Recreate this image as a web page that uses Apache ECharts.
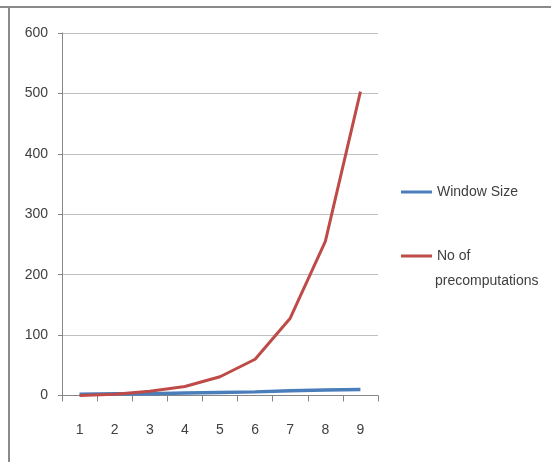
<!DOCTYPE html>
<html>
<head>
<meta charset="utf-8">
<script src="https://cdn.jsdelivr.net/npm/echarts@6/dist/echarts.min.js"></script>
<style>
html,body{margin:0;padding:0;background:#fff;}
#c{width:551px;height:462px;}
</style>
</head>
<body>
<div id="c"></div>
<script>
var categories = ['1','2','3','4','5','6','7','8','9'];
var windowSize = [2,3,3,4,5,6,8,9,10];
var precomputations = [0,2,7,15,31,60,128,255,503];
var yTicks = {min:0, max:600, interval:100};
var seriesNames = ['Window Size','No of precomputations'];

var FONT = "'Liberation Sans Narrow', 'Liberation Sans', Arial, sans-serif";
var chart = echarts.init(document.getElementById('c'), null, {renderer:'canvas'});
chart.setOption({
  backgroundColor:'#ffffff',
  animation:false,
  grid:{left:62, right:173, top:33, bottom:66.5, containLabel:false},
  legend:{
    orient:'vertical', left:401, top:182, padding:0, itemWidth:31, itemHeight:3, itemGap:44,
    icon:'rect',
    data:seriesNames,
    formatter:function(n){ return n === 'No of precomputations' ? 'No of' : n; },
    textStyle:{fontFamily:FONT, fontSize:14, color:'#404040', lineHeight:20}
  },
  graphic:[
    {type:'text', left:435, top:274, style:{text:'precomputations', font:'14px ' + FONT, fill:'#404040'}},
    {type:'line', shape:{x1:0,y1:7,x2:551,y2:7}, style:{stroke:'#8a8a8a', lineWidth:2}},
    {type:'line', shape:{x1:9,y1:6,x2:9,y2:462}, style:{stroke:'#8a8a8a', lineWidth:2}}
  ],
  xAxis:{
    type:'category', data:categories, boundaryGap:true,
    axisLine:{lineStyle:{color:'#868686', width:1}},
    axisTick:{show:true, length:6, lineStyle:{color:'#868686'}},
    axisLabel:{margin:28, fontFamily:FONT, fontSize:14, color:'#404040'},
    splitLine:{show:false}
  },
  yAxis:{
    type:'value', min:yTicks.min, max:yTicks.max, interval:yTicks.interval,
    axisLine:{show:true, lineStyle:{color:'#868686', width:1}},
    axisTick:{show:true, inside:false, length:4, lineStyle:{color:'#868686'}},
    axisLabel:{margin:14, fontFamily:FONT, fontSize:14, color:'#404040'},
    splitLine:{show:true, lineStyle:{color:'#c0c0c0', width:1}}
  },
  series:[
    {name:seriesNames[0], type:'line', data:windowSize, symbol:'none',
     lineStyle:{color:'#4a7ebb', width:3.5}, itemStyle:{color:'#4a7ebb'}},
    {name:seriesNames[1], type:'line', data:precomputations, symbol:'none',
     lineStyle:{color:'#be4b48', width:3}, itemStyle:{color:'#be4b48'}}
  ]
});
</script>
</body>
</html>
